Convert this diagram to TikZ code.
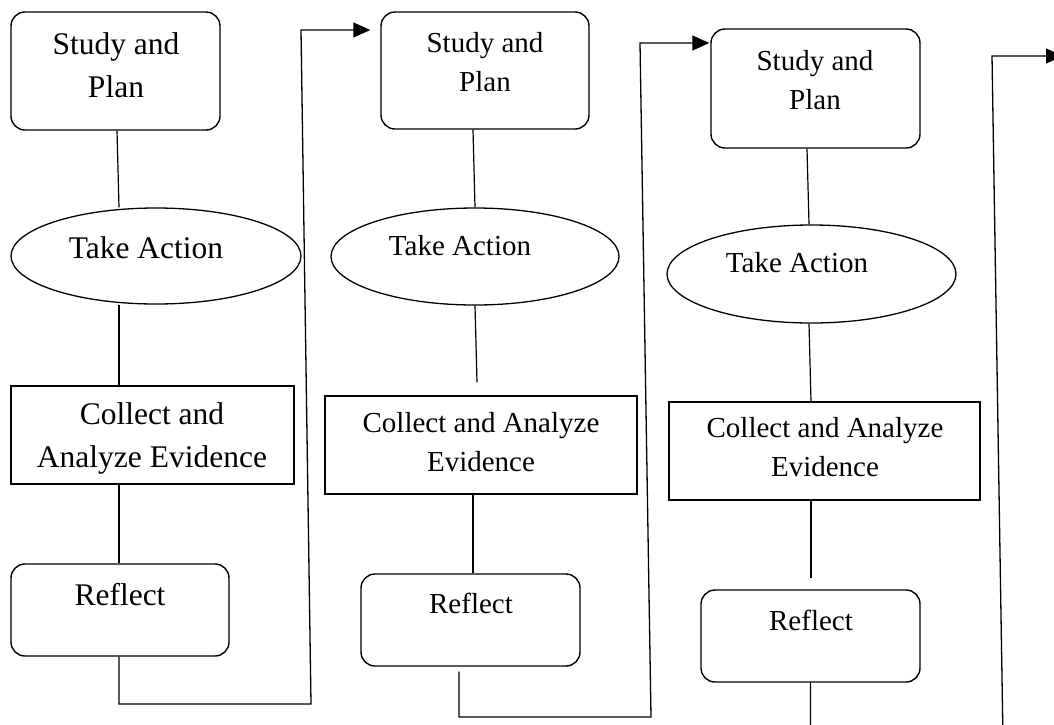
\documentclass[tikz,border=0pt]{standalone}
\usepackage{fontspec}
\setmainfont{Liberation Serif}
\usetikzlibrary{shapes.geometric,arrows.meta}

\begin{document}
\begin{tikzpicture}[x=1pt, y=-1pt,
    rbox/.style={draw, rounded corners=14pt, line width=1.4pt},
    pbox/.style={draw, line width=1.4pt},
    ebox/.style={draw, ellipse, line width=1.3pt},
    big/.style={align=center, inner sep=0pt, font=\fontsize{31.5}{43}\selectfont},
    small/.style={align=center, inner sep=0pt, font=\fontsize{29}{39}\selectfont},
    link/.style={line width=1.2pt},
    flow/.style={line width=1.3pt, -{Triangle[length=17pt, width=15pt]}}]
  \useasboundingbox (0,0) rectangle (1054,724);
  \clip (0,0) rectangle (1054,724);

  % first cycle
  \node[rbox, minimum width=209pt, minimum height=118pt] (sp1) at (115.5,71) {};
  \node[ebox, minimum width=290pt, minimum height=96pt] (ta1) at (156,256) {};
  \node[pbox, minimum width=283pt, minimum height=98pt] (ce1) at (152.5,435) {};
  \node[rbox, minimum width=218pt, minimum height=92pt] (rf1) at (120,610) {};
  \node[big] (sp1t) at (116,65.6) {Study and\\Plan};
  \node[big] (ta1t) at (146,248) {Take Action};
  \node[big] (ce1t) at (152,438.5) {Collect and\\Analyze Evidence};
  \node[big] (rf1t) at (120,595) {Reflect};

  % second cycle
  \node[rbox, minimum width=208pt, minimum height=117pt] (sp2) at (485,70.5) {};
  \node[ebox, minimum width=288pt, minimum height=97pt] (ta2) at (475,256.5) {};
  \node[pbox, minimum width=312pt, minimum height=98pt] (ce2) at (481,445) {};
  \node[rbox, minimum width=219pt, minimum height=92pt] (rf2) at (470.5,620) {};
  \node[small] (sp2t) at (485,62.5) {Study and\\Plan};
  \node[small] (ta2t) at (460,246) {Take Action};
  \node[small] (ce2t) at (481,442.5) {Collect and Analyze\\Evidence};
  \node[small] (rf2t) at (471,603) {Reflect};

  % third cycle
  \node[rbox, minimum width=209pt, minimum height=119pt] (sp3) at (815.5,88.5) {};
  \node[ebox, minimum width=289pt, minimum height=98pt] (ta3) at (811.5,274) {};
  \node[pbox, minimum width=311pt, minimum height=98pt] (ce3) at (824.5,451) {};
  \node[rbox, minimum width=219pt, minimum height=92pt] (rf3) at (810.5,636) {};
  \node[small] (sp3t) at (815,80) {Study and\\Plan};
  \node[small] (ta3t) at (797,263) {Take Action};
  \node[small] (ce3t) at (825,447) {Collect and Analyze\\Evidence};
  \node[small] (rf3t) at (811,620) {Reflect};

  % links inside each cycle
  \draw[link] ([xshift=1.5pt]sp1.south) -- ([xshift=-37pt]ta1.north);
  \draw[link] ([xshift=-37pt]ta1.south) -- ([xshift=-33.5pt]ce1.north);
  \draw[link] ([xshift=-33.5pt]ce1.south) -- ([xshift=-1pt]rf1.north);

  \draw[link] ([xshift=-12pt]sp2.south) -- (ta2.north);
  \draw[link] (ta2.south) -- ([xshift=-4pt,yshift=13pt]ce2.north);
  \draw[link] ([xshift=-8pt]ce2.south) -- ([xshift=2.5pt]rf2.north);

  \draw[link] ([xshift=-8.5pt]sp3.south) -- ([xshift=-2.5pt]ta3.north);
  \draw[link] ([xshift=-2.5pt]ta3.south) -- ([xshift=-13.5pt]ce3.north);
  \draw[link] ([xshift=-13.5pt]ce3.south) -- ([xshift=0.5pt,yshift=11pt]rf3.north);

  % loops to the next cycle
  \coordinate (b1) at (311,704);
  \coordinate (t1) at (301,30);
  \draw[flow, shorten >=10pt] ([xshift=-1pt]rf1.south) |- (b1) -- (t1) -- (t1 -| sp2.west);

  \coordinate (b2) at (651,717);
  \coordinate (t2) at (640,43);
  \draw[flow, shorten >=1pt] ([xshift=-11.5pt,yshift=-5pt]rf2.south) |- (b2) -- (t2) -- (t2 -| sp3.west);

  \coordinate (b3) at (1003,740);
  \coordinate (t3) at (992,56);
  \coordinate (e3) at (1063,56);
  \draw[flow] (rf3.south) |- (b3) -- (t3) -- (e3);
\end{tikzpicture}
\end{document}
